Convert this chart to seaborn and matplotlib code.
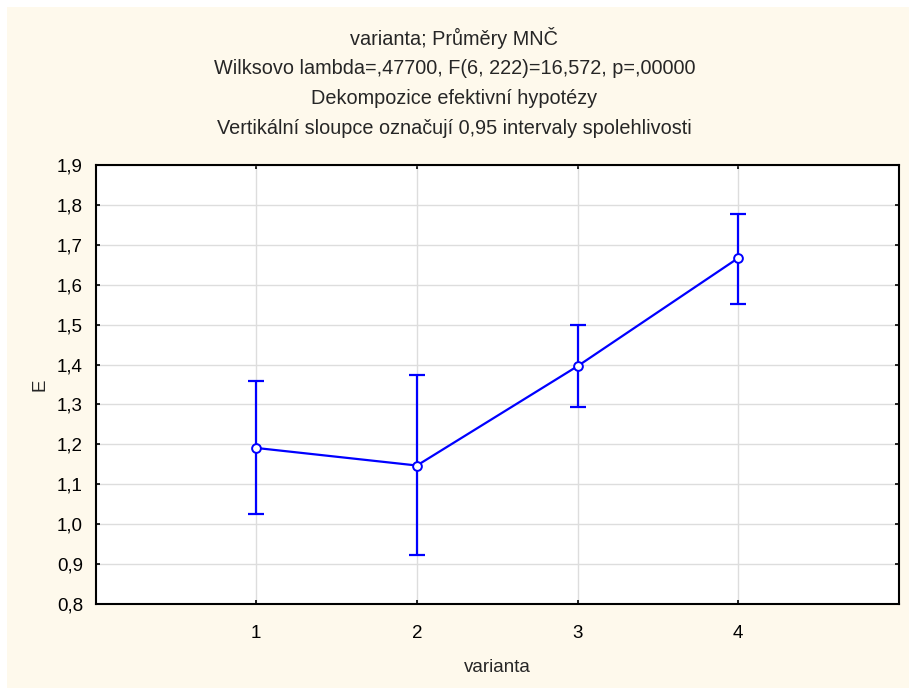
import matplotlib
matplotlib.use("Agg")
import matplotlib.pyplot as plt
import seaborn as sns
import pandas as pd
from matplotlib.patches import Rectangle
from matplotlib.ticker import FuncFormatter

# Data
varianta = [1, 2, 3, 4]
means = [1.191, 1.147, 1.396, 1.667]
ci_low = [1.025, 0.924, 1.294, 1.552]
ci_high = [1.358, 1.373, 1.500, 1.776]

titles = [
    "varianta; Průměry MNČ",
    "Wilksovo lambda=,47700, F(6, 222)=16,572, p=,00000",
    "Dekompozice efektivní hypotézy",
    "Vertikální sloupce označují 0,95 intervaly spolehlivosti",
]
yticks = [0.8, 0.9, 1.0, 1.1, 1.2, 1.3, 1.4, 1.5, 1.6, 1.7, 1.8, 1.9]

sns.set_theme(style="white")
plt.rcParams['font.family'] = ['Liberation Sans', 'DejaVu Sans']

W, H = 909, 688
fig = plt.figure(figsize=(W / 100, H / 100), dpi=100, facecolor="white")
cream = "#FEF9EC"
fig.patches.append(Rectangle((7 / W, 0), 1 - 7 / W, 1 - 7 / H, transform=fig.transFigure,
                             facecolor=cream, edgecolor="none", zorder=-10))

ax = fig.add_axes([95.5 / W, 1 - 604 / H, (899 - 95.5) / W, (604 - 165) / H])
ax.set_facecolor("white")

df = pd.DataFrame({"varianta": varianta, "E": means})
blue = "#0000FF"
ax.errorbar(varianta, means,
            yerr=[[m - l for m, l in zip(means, ci_low)], [h - m for m, h in zip(means, ci_high)]],
            fmt="none", ecolor=blue, elinewidth=1.6, capsize=5.8, capthick=1.6, zorder=3)
sns.lineplot(data=df, x="varianta", y="E", ax=ax, color=blue, linewidth=1.6,
             marker="o", markersize=6.3, markerfacecolor="white", markeredgecolor=blue,
             markeredgewidth=1.4, zorder=4)

ax.set_xlim(0, 5)
ax.set_ylim(0.8, 1.9)
ax.set_xticks(varianta)
ax.set_yticks(yticks)
ax.yaxis.set_major_formatter(FuncFormatter(lambda v, p: f"{v:.1f}".replace(".", ",")))
ax.grid(True, color="#DDDDDD", linewidth=1)
ax.set_axisbelow(True)
for s in ax.spines.values():
    s.set_visible(True)
    s.set_color("black")
    s.set_linewidth(1.5)
ax.tick_params(axis="both", which="both", direction="in", length=3, width=1.2,
               top=True, right=True, bottom=True, left=True, labelsize=13.5, colors="black",
               pad=9)
ax.tick_params(axis="x", pad=15)
ax.set_xlabel("varianta", fontsize=13.5, labelpad=12)
ax.set_ylabel("E", fontsize=13.5, labelpad=6)

for i, t in enumerate(titles):
    y = [38, 68, 98, 129][i]
    fig.text(0.5, 1 - y / H, t, ha="center", va="center", fontsize=14.3)

fig.savefig("out.png", dpi=100, facecolor=fig.get_facecolor())
